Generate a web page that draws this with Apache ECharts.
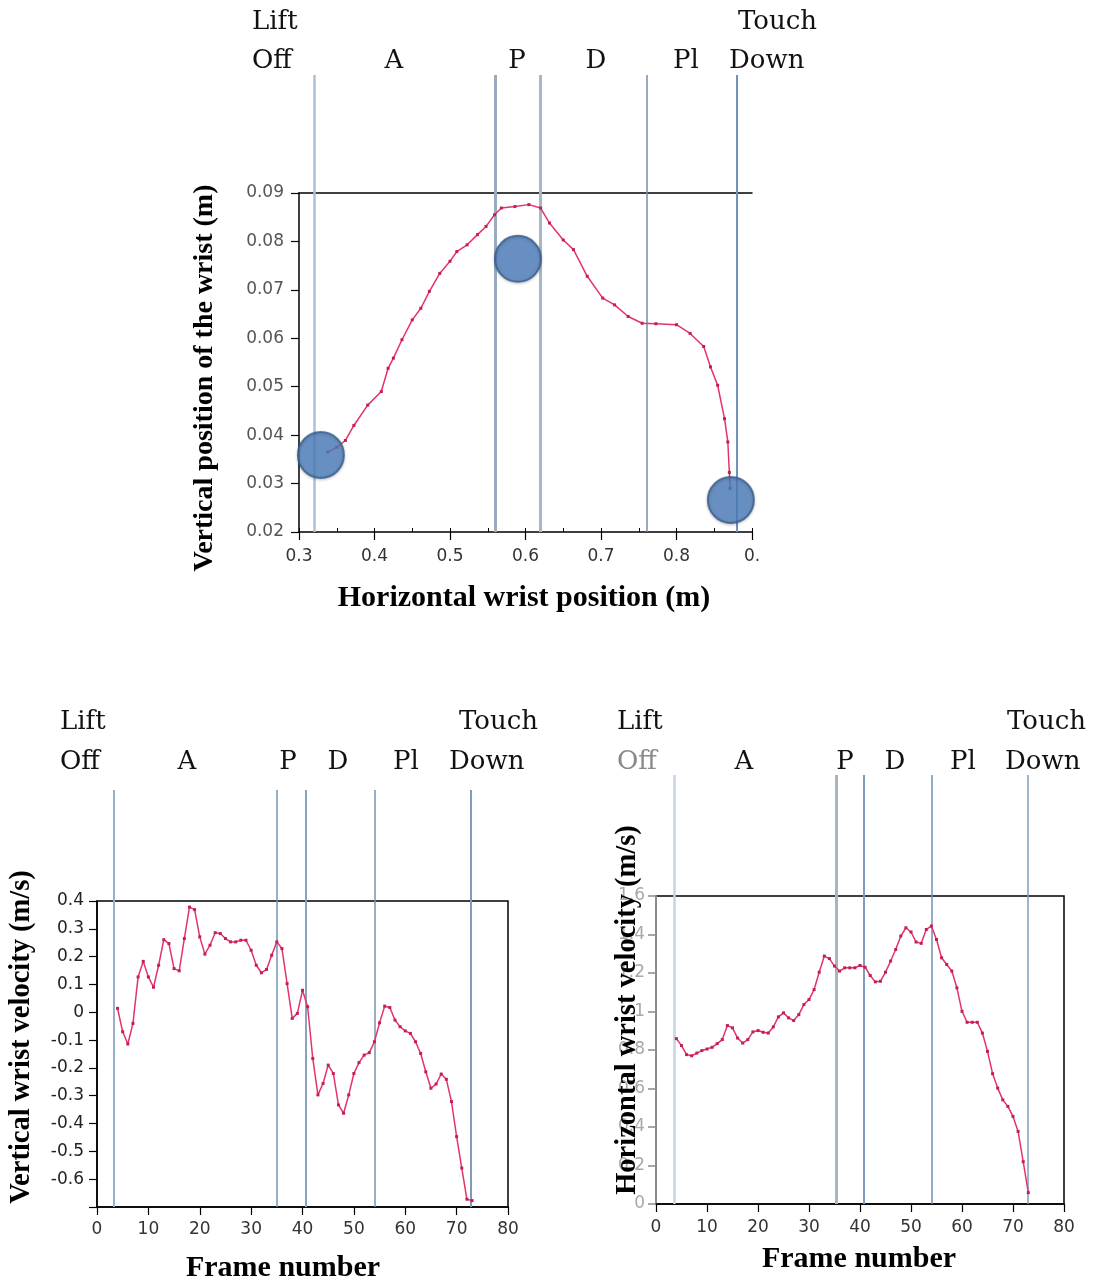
<!DOCTYPE html>
<html>
<head>
<meta charset="utf-8">
<script src="https://cdn.jsdelivr.net/npm/echarts@6/dist/echarts.min.js"></script>
<style>
  html, body { margin: 0; padding: 0; background: #fff; }
  #chart { width: 1097px; height: 1284px; }
</style>
</head>
<body>
<div id="chart"></div>
<script>
// wrist path (top chart)
const pathX = [0.338, 0.35, 0.3614, 0.3727, 0.391, 0.409, 0.418, 0.425, 0.4364, 0.45, 0.4614, 0.4727, 0.4864, 0.5, 0.509, 0.5227, 0.5364, 0.5477, 0.559, 0.568, 0.586, 0.6045, 0.62, 0.6318, 0.65, 0.6636, 0.6818, 0.7023, 0.718, 0.736, 0.7545, 0.7727, 0.80, 0.818, 0.836, 0.845, 0.8545, 0.8636, 0.868, 0.870, 0.871]
const pathY = [0.0365, 0.0375, 0.0389, 0.0420, 0.0462, 0.049, 0.0538, 0.0559, 0.0597, 0.0638, 0.0662, 0.0697, 0.0734, 0.0759, 0.0779, 0.0793, 0.0814, 0.0831, 0.0855, 0.0869, 0.0872, 0.0876, 0.0869, 0.0838, 0.0803, 0.0783, 0.0728, 0.0683, 0.0669, 0.0645, 0.0631, 0.0630, 0.0628, 0.0610, 0.0583, 0.0541, 0.0503, 0.0434, 0.0386, 0.0323, 0.029]
// blue markers on the path
const dotX = [0.329, 0.590, 0.872]
const dotY = [0.0359, 0.0764, 0.0266]

// frame numbers for the velocity charts
const frames = [4, 5, 6, 7, 8, 9, 10, 11, 12, 13, 14, 15, 16, 17, 18, 19, 20, 21, 22, 23,
  24, 25, 26, 27, 28, 29, 30, 31, 32, 33, 34, 35, 36, 37, 38, 39, 40, 41, 42, 43,
  44, 45, 46, 47, 48, 49, 50, 51, 52, 53, 54, 55, 56, 57, 58, 59, 60, 61, 62, 63,
  64, 65, 66, 67, 68, 69, 70, 71, 72, 73]
const vertVel = [0.014, -0.07, -0.114, -0.04, 0.127, 0.183, 0.127, 0.09, 0.169, 0.261,
  0.247, 0.157, 0.149, 0.265, 0.378, 0.369, 0.271, 0.209, 0.241, 0.286,
  0.283, 0.265, 0.253, 0.253, 0.259, 0.259, 0.223, 0.169, 0.142, 0.154,
  0.205, 0.253, 0.229, 0.103, -0.022, -0.004, 0.079, 0.02, -0.166, -0.297,
  -0.256, -0.19, -0.22, -0.333, -0.363, -0.297, -0.22, -0.181, -0.154, -0.145,
  -0.106, -0.038, 0.022, 0.017, -0.028, -0.052, -0.067, -0.076, -0.106, -0.148,
  -0.214, -0.273, -0.258, -0.222, -0.241, -0.321, -0.447, -0.56, -0.672, -0.677]
const horizVel = [0.859, 0.823, 0.776, 0.770, 0.784, 0.797, 0.805, 0.814, 0.833, 0.854,
  0.927, 0.915, 0.862, 0.836, 0.854, 0.894, 0.901, 0.892, 0.888, 0.920,
  0.972, 0.993, 0.967, 0.953, 0.984, 1.036, 1.062, 1.114, 1.204, 1.288,
  1.275, 1.236, 1.21, 1.227, 1.227, 1.227, 1.239, 1.230, 1.187, 1.154,
  1.157, 1.204, 1.262, 1.322, 1.392, 1.435, 1.413, 1.361, 1.354, 1.426,
  1.444, 1.374, 1.279, 1.244, 1.21, 1.123, 1.001, 0.944, 0.944, 0.944,
  0.888, 0.793, 0.677, 0.602, 0.541, 0.507, 0.455, 0.377, 0.22, 0.059]

// phase boundaries: lift off, A|P, P|D, D|Pl, touch down
const pathPhases = [0.321, 0.559, 0.621, 0.762, 0.882]
const vertPhases = [3.3, 35.0, 40.6, 54.1, 72.8]
const horizPhases = [3.5, 35.3, 40.7, 54.1, 72.9]
const phaseNames = ['Lift', 'Off', 'A', 'P', 'D', 'Pl', 'Touch', 'Down']

const titles = {
  pathX: 'Horizontal wrist position (m)',
  pathY: 'Vertical position of the wrist (m)',
  frame: 'Frame number',
  vertY: 'Vertical wrist velocity (m/s)',
  horizY: 'Horizontal wrist velocity (m/s)'
}

const chart = echarts.init(document.getElementById('chart'))

const sans = 'DejaVu Sans'
const serif = 'Liberation Serif'
const curveColor = '#e4336c'
const markColor = '#c4204f'

function tickLabel (color) {
  return { fontFamily: sans, fontSize: 17, color: color || '#333' }
}

function phaseLines (values, styles) {
  return {
    silent: true,
    symbol: ['none', 'none'],
    label: { show: false },
    animation: false,
    data: values.map((v, i) => ({ xAxis: v, lineStyle: styles[i] }))
  }
}

const pathLineStyles = [
  { color: '#a9c0d8', width: 2.5, type: 'solid' },
  { color: '#9aacc0', width: 3, type: 'solid' },
  { color: '#a3b8cd', width: 3, type: 'solid' },
  { color: '#6f8fb1', width: 1.5, type: 'solid' },
  { color: '#7393b4', width: 2, type: 'solid' }
]
const vertLineStyles = [
  { color: '#98b0ca', width: 2, type: 'solid' },
  { color: '#7593b4', width: 1.5, type: 'solid' },
  { color: '#8aa3bd', width: 2, type: 'solid' },
  { color: '#7593b4', width: 1.5, type: 'solid' },
  { color: '#7f9bbb', width: 2, type: 'solid' }
]
const horizLineStyles = [
  { color: '#c6d5e6', width: 2.5, type: 'solid' },
  { color: '#a7b4c4', width: 3, type: 'solid' },
  { color: '#7f9cbc', width: 2, type: 'solid' },
  { color: '#7090b2', width: 1.5, type: 'solid' },
  { color: '#7f9cbc', width: 1.5, type: 'solid' }
]

// phase label layout: [name index, x, y, align, colour]
const phaseLayout = [
  [[0, 252, 22, 'left'], [1, 252, 61, 'left'], [2, 394, 61, 'center'], [3, 517, 61, 'center'], [4, 596, 61, 'center'], [5, 686, 61, 'center'], [6, 738, 22, 'left'], [7, 729, 61, 'left']],
  [[0, 60, 722, 'left'], [1, 60, 762, 'left'], [2, 187, 762, 'center'], [3, 288, 762, 'center'], [4, 338, 762, 'center'], [5, 406, 762, 'center'], [6, 459, 722, 'left'], [7, 449, 762, 'left']],
  [[0, 617, 722, 'left'], [1, 617, 762, 'left', '#8a8a8a'], [2, 744, 762, 'center'], [3, 845, 762, 'center'], [4, 895, 762, 'center'], [5, 963, 762, 'center'], [6, 1007, 722, 'left'], [7, 1005, 762, 'left']]
]

const graphic = []
phaseLayout.forEach(block => {
  block.forEach(it => {
    graphic.push({
      type: 'text',
      x: it[1],
      y: it[2],
      style: {
        text: phaseNames[it[0]],
        fontFamily: 'DejaVu Serif',
        fontSize: 26,
        fill: it[4] || '#111',
        align: it[3],
        verticalAlign: 'middle'
      }
    })
  })
})

function titleText (text, x, y, rotate, size) {
  return {
    type: 'text',
    x: x,
    y: y,
    rotation: rotate ? Math.PI / 2 : 0,
    z: 50,
    style: {
      text: text,
      fontFamily: serif,
      fontWeight: 'bold',
      fontSize: size,
      fill: '#000',
      align: 'center',
      verticalAlign: 'middle'
    }
  }
}
graphic.push(titleText(titles.pathX, 524, 598, false, 30))
graphic.push(titleText(titles.pathY, 205, 378, true, 28))
graphic.push(titleText(titles.frame, 283, 1268, false, 30))
graphic.push(titleText(titles.vertY, 22, 1037, true, 28.5))
graphic.push(titleText(titles.frame, 859, 1259, false, 30))
graphic.push(titleText(titles.horizY, 628, 1010, true, 28.5))

const blackLine = { show: true, onZero: false, lineStyle: { color: '#000', width: 1.5 } }
const outTick = { show: true, length: 8, lineStyle: { color: '#000', width: 1.2 } }

chart.setOption({
  backgroundColor: '#fff',
  animation: false,
  graphic: graphic,
  grid: [
    { left: 299, top: 193, width: 453, height: 339 },
    { left: 299, top: 75, width: 453, height: 457 },
    { left: 97, top: 901, width: 411, height: 306, show: true, borderColor: '#000', borderWidth: 1.5, backgroundColor: 'transparent' },
    { left: 97, top: 790, width: 411, height: 417 },
    { left: 656, top: 896, width: 408, height: 308, show: true, borderColor: '#000', borderWidth: 1.5, backgroundColor: 'transparent' },
    { left: 656, top: 775, width: 408, height: 429 }
  ],
  xAxis: [
    {
      gridIndex: 0, type: 'value', min: 0.3, max: 0.9, interval: 0.1, position: 'bottom',
      axisLine: blackLine, axisTick: outTick, splitLine: { show: false },
      axisLabel: Object.assign(tickLabel('#333'), { margin: 16, formatter: v => (v > 0.85 ? '0.' : v) })
    },
    {
      gridIndex: 0, type: 'value', min: 0.3, max: 0.9, position: 'top',
      axisLine: blackLine, axisTick: { show: false }, axisLabel: { show: false }, splitLine: { show: false }
    },
    {
      gridIndex: 0, type: 'value', min: 0.3, max: 0.9, interval: 0.05, position: 'bottom', offset: 0,
      axisLine: { show: false, onZero: false }, axisTick: { show: true, inside: true, length: 4, lineStyle: { color: '#000' } },
      axisLabel: { show: false }, splitLine: { show: false }
    },
    { gridIndex: 1, type: 'value', min: 0.3, max: 0.9, show: false },
    {
      gridIndex: 2, type: 'value', min: 0, max: 80, interval: 10,
      axisLine: blackLine, axisTick: outTick, splitLine: { show: false },
      axisLabel: Object.assign(tickLabel('#333'), { margin: 14 })
    },
    { gridIndex: 3, type: 'value', min: 0, max: 80, show: false },
    {
      gridIndex: 4, type: 'value', min: 0, max: 80, interval: 10,
      axisLine: blackLine, axisTick: outTick, splitLine: { show: false },
      axisLabel: Object.assign(tickLabel('#333'), { margin: 15, color: v => (v === 0 ? '#999' : '#333') })
    },
    { gridIndex: 5, type: 'value', min: 0, max: 80, show: false }
  ],
  yAxis: [
    {
      gridIndex: 0, type: 'value', min: 0.02, max: 0.09, interval: 0.01,
      axisLine: blackLine, axisTick: outTick, splitLine: { show: false },
      axisLabel: Object.assign(tickLabel('#555'), { margin: 15 })
    },
    { gridIndex: 1, type: 'value', min: 0, max: 1, show: false },
    {
      gridIndex: 2, type: 'value', min: -0.7, max: 0.4, interval: 0.1,
      axisLine: blackLine, axisTick: outTick, splitLine: { show: false },
      axisLabel: Object.assign(tickLabel('#222'), { margin: 13, formatter: v => (v < -0.65 ? '' : v) })
    },
    { gridIndex: 3, type: 'value', min: 0, max: 1, show: false },
    {
      gridIndex: 4, type: 'value', min: 0, max: 1.6, interval: 0.2,
      axisLine: { show: true, onZero: false, lineStyle: { color: '#8c8c8c', width: 2 } },
      axisTick: { show: true, length: 8, lineStyle: { color: '#8c8c8c', width: 1.5 } },
      splitLine: { show: false },
      axisLabel: Object.assign(tickLabel('#a8a8a8'), { margin: 11 })
    },
    { gridIndex: 5, type: 'value', min: 0, max: 1, show: false }
  ],
  series: [
    {
      type: 'line', xAxisIndex: 3, yAxisIndex: 1, data: [], z: 1,
      markLine: phaseLines(pathPhases, pathLineStyles)
    },
    {
      type: 'line', xAxisIndex: 5, yAxisIndex: 3, data: [], z: 1,
      markLine: phaseLines(vertPhases, vertLineStyles)
    },
    {
      type: 'line', xAxisIndex: 7, yAxisIndex: 5, data: [], z: 1,
      markLine: phaseLines(horizPhases, horizLineStyles)
    },
    {
      name: 'path', type: 'line', xAxisIndex: 0, yAxisIndex: 0, z: 5,
      data: pathX.map((x, i) => [x, pathY[i]]),
      symbol: 'rect', symbolSize: 3, showSymbol: true,
      lineStyle: { color: curveColor, width: 1.5 },
      itemStyle: { color: markColor }
    },
    {
      name: 'dots', type: 'scatter', xAxisIndex: 0, yAxisIndex: 0, z: 10,
      data: dotX.map((x, i) => [x, dotY[i]]),
      symbol: 'circle', symbolSize: 46,
      itemStyle: { color: '#4f7fbe', borderColor: '#3a5f8f', borderWidth: 2, shadowColor: 'rgba(0,0,0,0.25)', shadowBlur: 3, shadowOffsetY: 1 }
    },
    {
      name: 'vertical velocity', type: 'line', xAxisIndex: 4, yAxisIndex: 2, z: 5,
      data: frames.map((f, i) => [f, vertVel[i]]),
      symbol: 'rect', symbolSize: 3, showSymbol: true,
      lineStyle: { color: curveColor, width: 1.5 },
      itemStyle: { color: markColor }
    },
    {
      name: 'horizontal velocity', type: 'line', xAxisIndex: 6, yAxisIndex: 4, z: 5,
      data: frames.map((f, i) => [f, horizVel[i]]),
      symbol: 'rect', symbolSize: 3, showSymbol: true,
      lineStyle: { color: curveColor, width: 1.5 },
      itemStyle: { color: markColor }
    }
  ]
})
</script>
</body>
</html>
